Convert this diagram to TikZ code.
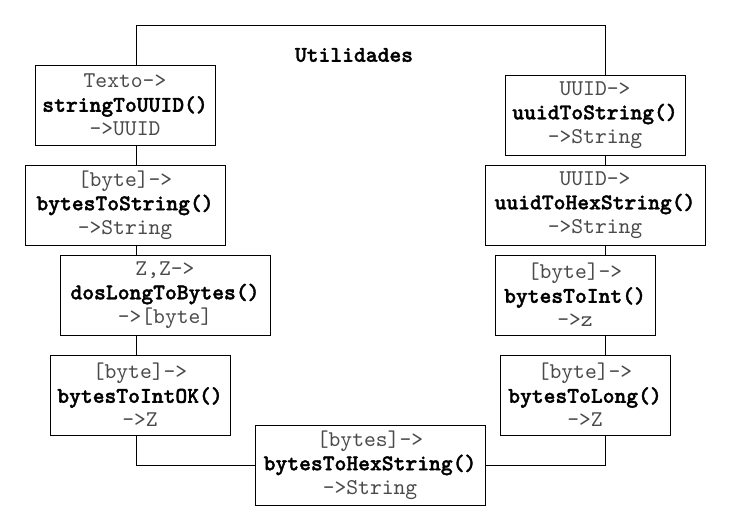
\documentclass[tikz,border=0pt]{standalone}
\usepackage{fontspec}
\setmonofont{lmmono10-regular.otf}[BoldFont=lmmonolt10-bold.otf,BoldFeatures={FakeBold=1.6}]
\begin{document}
\begin{tikzpicture}[x=1pt,y=-1pt,
  fn/.style={draw=black,line width=1pt,fill=white,rectangle,inner sep=0pt,align=center,
    font=\ttfamily\fontsize{22.5}{24}\selectfont},
  wire/.style={draw=black,line width=1pt},
  title/.style={font=\ttfamily\fontsize{22.5}{24}\selectfont\bfseries}]
\useasboundingbox (0,0) rectangle (731,531);
\fill[white] (0,0) rectangle (731,531);
\definecolor{tgray}{HTML}{4A4A4A}
\newcommand{\fnlabel}[3]{\textcolor{tgray}{#1}\\\textbf{#2}\\\textcolor{tgray}{#3}}
\coordinate (lx) at (136,25);
\coordinate (rx) at (605,25);
\coordinate (by) at (370,465);
% left column
\node[fn,minimum width=180pt,minimum height=80pt] (s2u) at (125,105) {\fnlabel{Texto->}{stringToUUID()}{->UUID}};
\node[fn,minimum width=200pt,minimum height=80pt] (b2s) at (125,205) {\fnlabel{[byte]->}{bytesToString()}{->String}};
\node[fn,minimum width=210pt,minimum height=80pt] (d2b) at (165,295) {\fnlabel{Z,Z->}{dosLongToBytes()}{->[byte]}};
\node[fn,minimum width=180pt,minimum height=80pt] (b2io) at (140,395) {\fnlabel{[byte]->}{bytesToIntOK()}{->Z}};
% right column
\node[fn,minimum width=180pt,minimum height=80pt] (u2s) at (595,115) {\fnlabel{UUID->}{uuidToString()}{->String}};
\node[fn,minimum width=220pt,minimum height=80pt] (u2h) at (595,205) {\fnlabel{UUID->}{uuidToHexString()}{->String}};
\node[fn,minimum width=160pt,minimum height=80pt] (b2i) at (575,295) {\fnlabel{[byte]->}{bytesToInt()}{->z}};
\node[fn,minimum width=170pt,minimum height=80pt] (b2l) at (585,395) {\fnlabel{[byte]->}{bytesToLong()}{->Z}};
% bottom
\node[fn,minimum width=230pt,minimum height=80pt] (b2h) at (370,465) {\fnlabel{[bytes]->}{bytesToHexString()}{->String}};
% title
\node[title] (ttl) at (354,55) {Utilidades};
% wires
\draw[wire] (s2u.north -| lx) -- (lx) -- (rx) -- (u2s.north -| rx);
\draw[wire] (s2u.south -| lx) -- (b2s.north -| lx);
\draw[wire] (b2s.south -| lx) -- (d2b.north -| lx);
\draw[wire] (d2b.south -| lx) -- (b2io.north -| lx);
\draw[wire] (b2io.south -| lx) -- (lx |- by) -- (b2h.west);
\draw[wire] (u2s.south -| rx) -- (u2h.north -| rx);
\draw[wire] (u2h.south -| rx) -- (b2i.north -| rx);
\draw[wire] (b2i.south -| rx) -- (b2l.north -| rx);
\draw[wire] (b2l.south -| rx) -- (rx |- by) -- (b2h.east);
\end{tikzpicture}
\end{document}
